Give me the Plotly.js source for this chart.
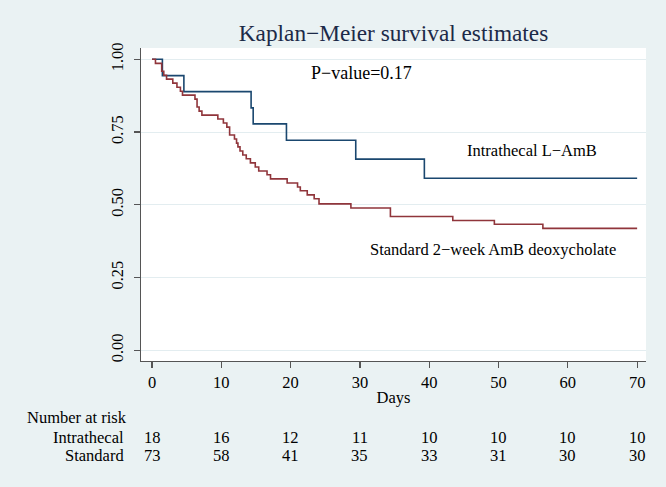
<!DOCTYPE html>
<html>
<head>
<meta charset="utf-8">
<script src="https://cdn.plot.ly/plotly-3.0.1.min.js"></script>
<style>html,body{margin:0;padding:0;background:#eaf2f3;}#chart{width:666px;height:487px;}</style>
</head>
<body>
<div id="chart"></div>
<script>
// ---- Data ----
const riskDays = [0, 10, 20, 30, 40, 50, 60, 70];
const riskIntrathecal = [18, 16, 12, 11, 10, 10, 10, 10];
const riskStandard = [73, 58, 41, 35, 33, 31, 30, 30];

const intrathecalTime = [0, 1.5, 4.6, 14.3, 14.6, 19.4, 29.4, 39.3, 70];
const intrathecalSurv = [1.000, 0.944, 0.889, 0.833, 0.778, 0.722, 0.657, 0.591, 0.591];

const standardTime = [0, 0.5, 1.4, 1.7, 2.1, 3.0, 3.6, 4.1, 4.4, 6.2, 6.5, 6.8, 7.2, 9.5, 10.3, 10.8, 11.2,
  11.9, 12.2, 12.4, 12.7, 13.1, 13.6, 14.2, 14.9, 15.4, 16.6, 17.1, 19.5, 21.0, 21.4, 22.4, 23.4, 24.1,
  28.7, 34.4, 43.4, 49.4, 56.4, 70];
const standardSurv = [1.000, 0.986, 0.959, 0.945, 0.932, 0.918, 0.904, 0.890, 0.877, 0.863, 0.836, 0.822, 0.808, 0.795, 0.781, 0.767, 0.740,
  0.726, 0.712, 0.699, 0.685, 0.671, 0.658, 0.644, 0.630, 0.616, 0.603, 0.589, 0.575, 0.561, 0.548, 0.534, 0.521, 0.503,
  0.489, 0.460, 0.446, 0.433, 0.419, 0.419];

const rowLabels = ["Intrathecal", "Standard"];
const yTicks = [0, 0.25, 0.5, 0.75, 1];
const xTicks = [0, 10, 20, 30, 40, 50, 60, 70];

// ---- Styling ----
const serif = "Liberation Serif, Times New Roman, serif";
const navy = "#1a476f";
const maroon = "#90353b";

const traces = [
  {x: intrathecalTime, y: intrathecalSurv, type: "scatter", mode: "lines",
   line: {shape: "hv", color: navy, width: 1.6}, name: "Intrathecal L−AmB", hoverinfo: "x+y"},
  {x: standardTime, y: standardSurv, type: "scatter", mode: "lines",
   line: {shape: "hv", color: maroon, width: 1.6}, name: "Standard 2−week AmB deoxycholate", hoverinfo: "x+y"}
];

const annotations = [
  {x: 30.2, y: 0.953, xref: "x", yref: "y", xanchor: "center", yanchor: "middle", text: "P−value=0.17", showarrow: false,
   font: {family: serif, size: 18, color: "#000"}},
  {x: 54.8, y: 0.688, xref: "x", yref: "y", xanchor: "center", yanchor: "middle", text: "Intrathecal L−AmB", showarrow: false,
   font: {family: serif, size: 16.5, color: "#000"}},
  {x: 49.2, y: 0.348, xref: "x", yref: "y", xanchor: "center", yanchor: "middle", text: "Standard 2−week AmB deoxycholate", showarrow: false,
   font: {family: serif, size: 16.5, color: "#000"}},
  {x: -0.2297, y: -0.182, xref: "paper", yref: "paper", xanchor: "left", yanchor: "middle", text: "Number at risk",
   showarrow: false, font: {family: serif, size: 16.5, color: "#000"}}
];
const rowY = [-0.243, -0.302];
const rowData = [riskIntrathecal, riskStandard];
rowLabels.forEach((lab, i) => {
  annotations.push({x: -0.03, y: rowY[i], xref: "paper", yref: "paper", xanchor: "right", yanchor: "middle", text: lab,
    showarrow: false, font: {family: serif, size: 16.5, color: "#000"}});
  riskDays.forEach((d, j) => {
    annotations.push({x: d, y: rowY[i], xref: "x", yref: "paper", xanchor: "center", yanchor: "middle", text: String(rowData[i][j]),
      showarrow: false, font: {family: serif, size: 16.5, color: "#000"}});
  });
});

const layout = {
  width: 666, height: 487,
  margin: {l: 141, r: 20, t: 48, b: 126, pad: 0},
  paper_bgcolor: "#eaf2f3",
  plot_bgcolor: "#ffffff",
  showlegend: false,
  title: {text: "Kaplan−Meier survival estimates", xref: "paper", x: 0.5, xanchor: "center",
          yref: "container", y: 0.932, yanchor: "middle",
          font: {family: serif, size: 23.3, color: "#1c2a48"}},
  xaxis: {range: [-1.587, 71.28], tickvals: xTicks, ticktext: xTicks.map(String),
          showgrid: false, zeroline: false, showline: true, linecolor: "#555", linewidth: 1.2,
          ticks: "outside", ticklen: 6, tickcolor: "#555", tickwidth: 1.2,
          tickfont: {family: serif, size: 16.5, color: "#000"},
          title: {text: "Days", font: {family: serif, size: 16.5, color: "#000"}, standoff: 0},
          automargin: false},
  yaxis: {range: [-0.0368, 1.0388], tickvals: yTicks, ticktext: yTicks.map(v => v.toFixed(2)),
          showgrid: true, gridcolor: "#e3edf0", gridwidth: 1, zeroline: false,
          showline: true, linecolor: "#555", linewidth: 1.2,
          ticks: "outside", ticklen: 6, tickcolor: "#555", tickwidth: 1.2, tickangle: -90,
          ticklabelstandoff: 4,
          tickfont: {family: serif, size: 16.5, color: "#000"}, automargin: false},
  annotations: annotations
};

Plotly.newPlot("chart", traces, layout, {displayModeBar: false, staticPlot: true});
</script>
</body>
</html>
